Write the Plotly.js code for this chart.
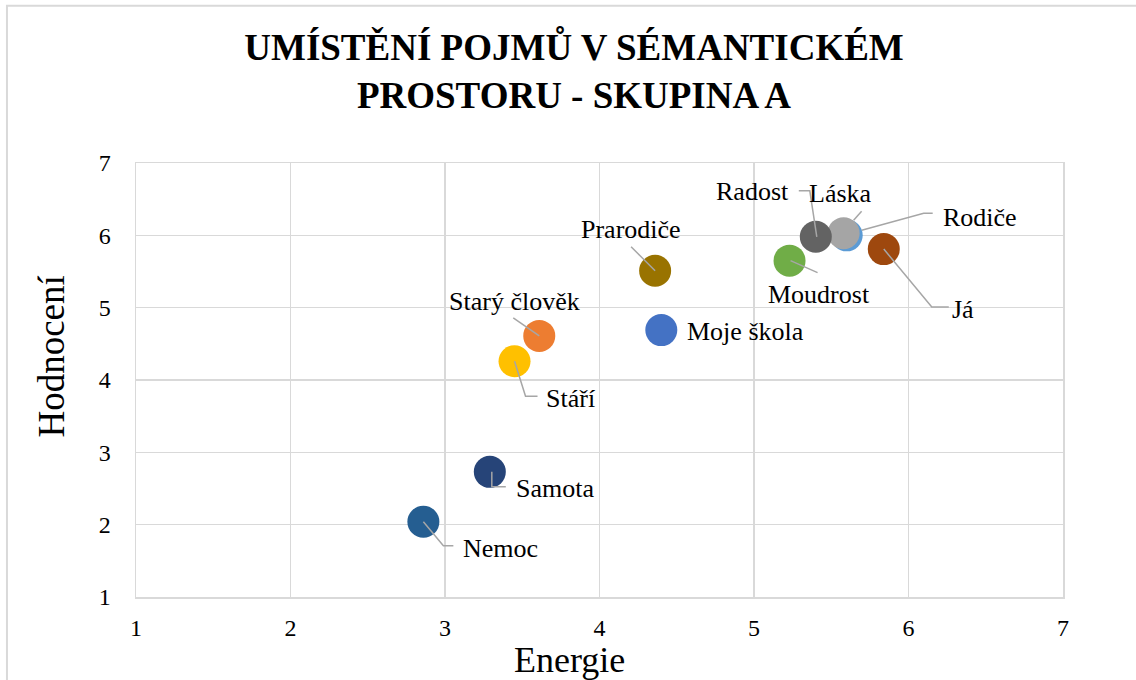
<!DOCTYPE html>
<html>
<head>
<meta charset="utf-8">
<script src="https://cdn.plot.ly/plotly-3.0.1.min.js"></script>
<style>
  html, body { margin: 0; padding: 0; background: #ffffff; }
  #chart { width: 1136px; height: 680px; }
</style>
</head>
<body>
<div id="chart"></div>
<script>
// ---- data ----
const pojmy = ['Nemoc', 'Samota', 'Stáří', 'Starý člověk', 'Prarodiče', 'Moje škola', 'Moudrost', 'Rodiče', 'Láska', 'Radost', 'Já'];
const energie = [2.86, 3.29, 3.45, 3.61, 4.36, 4.40, 5.23, 5.60, 5.58, 5.40, 5.84];
const hodnoceni = [2.04, 2.73, 4.26, 4.61, 5.51, 4.69, 5.65, 6.00, 6.03, 5.98, 5.81];
const tickValues = [1, 2, 3, 4, 5, 6, 7];
const chartTitle = 'UMÍSTĚNÍ POJMŮ V SÉMANTICKÉM<br>PROSTORU - SKUPINA A';
const xTitle = 'Energie';
const yTitle = 'Hodnocení';

// ---- styles ----
const colors = ['#255E91', '#264478', '#FFC000', '#ED7D31', '#997300', '#4472C4', '#70AD47', '#5B9BD5', '#A5A5A5', '#636363', '#9E480E'];
// label offsets (px, right/down positive) and leader line paths (px, relative to point, down positive)
const labelStyle = {
  'Nemoc':        { dx: 77,  dy: 27,  leader: [[0, 0], [20, 24], [30, 24]] },
  'Samota':       { dx: 65,  dy: 17,  leader: [[2, 0], [2, 15], [16, 15]] },
  'Stáří':        { dx: 56,  dy: 37,  leader: [[0, 0], [11, 35], [23, 35]] },
  'Starý člověk': { dx: -25, dy: -34, leader: [[-26, -18], [0, 0]] },
  'Prarodiče':    { dx: -24, dy: -41, leader: [[-24, -24], [0, 0]] },
  'Moje škola':   { dx: 84,  dy: 1,   leader: null },
  'Moudrost':     { dx: 29,  dy: 34,  leader: [[1, 0], [28, 12]] },
  'Rodiče':       { dx: 133, dy: -18, leader: [[86, -22], [77, -22], [15, -5]] },
  'Láska':        { dx: -3,  dy: -40, leader: [[18, -22], [10, -13]] },
  'Radost':       { dx: -63, dy: -45, leader: [[-17, -46], [-6, -46], [1, 0]] },
  'Já':           { dx: 79,  dy: 60,  leader: [[0, 0], [48, 58], [65, 58]] }
};

const FONT = 'Liberation Serif';
const GRID = '#D9D9D9';

const trace = {
  type: 'scatter',
  mode: 'markers',
  x: energie,
  y: hodnoceni,
  text: pojmy,
  hoverinfo: 'text+x+y',
  marker: { size: 32, color: colors, line: { width: 0 }, opacity: 1 },
  showlegend: false
};

const annotations = pojmy.map((name, i) => ({
  x: energie[i], y: hodnoceni[i], xref: 'x', yref: 'y',
  text: name, showarrow: false,
  xanchor: 'center', yanchor: 'middle',
  xshift: labelStyle[name].dx, yshift: -labelStyle[name].dy,
  font: { family: FONT, size: 26, color: '#000000' }
}));

annotations.push({
  xref: 'paper', yref: 'paper', x: 0.468, y: -0.1445,
  xanchor: 'center', yanchor: 'middle', showarrow: false,
  text: xTitle, font: { family: FONT, size: 36, color: '#000000' }
});
annotations.push({
  xref: 'paper', yref: 'paper', x: -0.0906, y: 0.554,
  xanchor: 'center', yanchor: 'middle', showarrow: false, textangle: -90,
  text: yTitle, font: { family: FONT, size: 37, color: '#000000' }
});

const shapes = [];
pojmy.forEach((name, i) => {
  const ld = labelStyle[name].leader;
  if (!ld) return;
  const path = ld.map((p, k) => (k === 0 ? 'M' : 'L') + p[0] + ',' + (-p[1])).join(' ');
  shapes.push({
    type: 'path', xref: 'x', yref: 'y',
    xsizemode: 'pixel', ysizemode: 'pixel',
    xanchor: energie[i], yanchor: hodnoceni[i],
    path: path,
    line: { color: '#A6A6A6', width: 1.5 },
    layer: 'above'
  });
});
// outer chart frame
shapes.push({
  type: 'rect', xref: 'paper', yref: 'paper',
  x0: -0.1392, x1: 1.09, y0: -0.23, y1: 1.3626,
  line: { color: GRID, width: 2 }, fillcolor: 'rgba(0,0,0,0)', layer: 'below'
});

const axisCommon = {
  range: [1, 7],
  tickvals: tickValues,
  ticktext: tickValues.map(String),
  showgrid: true, gridcolor: GRID, gridwidth: 1.5,
  zeroline: false,
  showline: true, linecolor: GRID, linewidth: 1.5, mirror: true,
  ticks: '',
  tickfont: { family: FONT, size: 24, color: '#000000' },
  fixedrange: true
};

const layout = {
  width: 1136, height: 680,
  margin: { l: 136, r: 73, t: 163, b: 83 },
  paper_bgcolor: '#ffffff', plot_bgcolor: '#ffffff',
  title: {
    text: '<b>' + chartTitle + '</b>',
    xref: 'container', yref: 'container',
    x: 0.5053, xanchor: 'center',
    y: 0.912, yanchor: 'top',
    font: { family: FONT, size: 37, color: '#000000' }
  },
  xaxis: Object.assign({}, axisCommon, { ticklabelstandoff: 9 }),
  yaxis: Object.assign({}, axisCommon, { ticklabelstandoff: 19 }),
  annotations: annotations,
  shapes: shapes,
  showlegend: false
};

Plotly.newPlot('chart', [trace], layout, { displayModeBar: false, staticPlot: true });
</script>
</body>
</html>
